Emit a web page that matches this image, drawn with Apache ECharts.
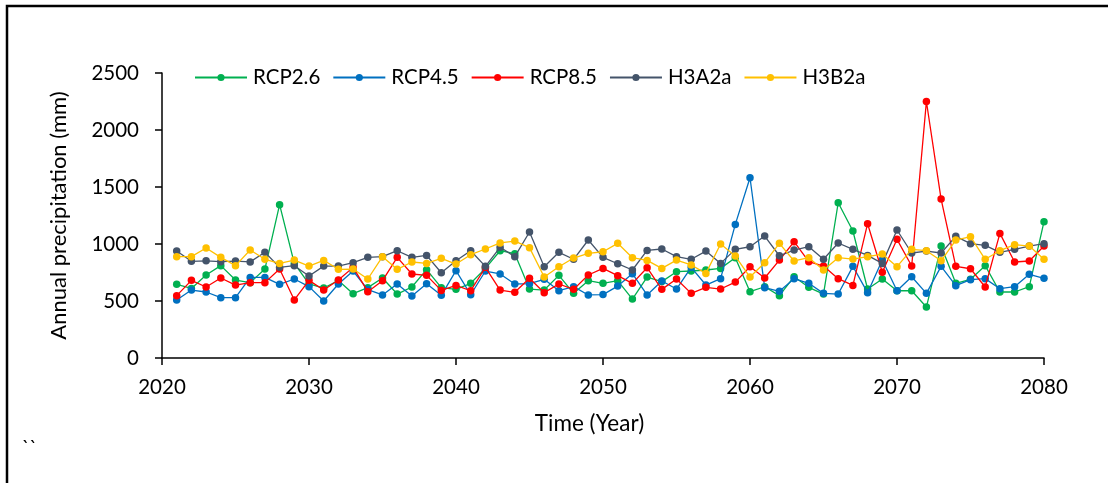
<!DOCTYPE html>
<html>
<head>
<meta charset="utf-8">
<script src="https://cdn.jsdelivr.net/npm/echarts@6/dist/echarts.min.js"></script>
<style>
  html, body { margin: 0; padding: 0; background: #fff; }
  #chart { width: 1108px; height: 483px; }
</style>
</head>
<body>
<div id="chart"></div>
<script>
// Annual precipitation (mm) per scenario, 2021–2080
const years = [];
for (let y = 2021; y <= 2080; y++) years.push(y);

const xTicks = [2020, 2030, 2040, 2050, 2060, 2070, 2080];
const yTicks = [0, 500, 1000, 1500, 2000, 2500];

const rcp26 = [646, 610, 728, 810, 684, 661, 780, 1345, 830, 650,
               614, 680, 564, 617, 702, 561, 623, 775, 617, 602,
               655, 786, 941, 915, 605, 596, 725, 567, 678, 655,
               678, 517, 710, 670, 757, 763, 772, 786, 880, 582,
               625, 547, 713, 620, 561, 1362, 1114, 605, 693, 590,
               590, 447, 982, 655, 690, 810, 579, 579, 626, 1196];

const rcp45 = [509, 596, 579, 529, 529, 707, 707, 646, 693, 626,
               500, 649, 763, 600, 553, 649, 544, 652, 550, 766,
               555, 763, 737, 649, 652, 690, 590, 626, 553, 556,
               631, 740, 553, 675, 605, 795, 640, 696, 1172, 1581,
               617, 585, 696, 655, 567, 561, 804, 573, 859, 590,
               713, 567, 804, 634, 687, 696, 608, 626, 734, 699];

const rcp85 = [547, 681, 623, 702, 640, 661, 661, 780, 509, 681,
               596, 684, 795, 582, 678, 883, 737, 725, 593, 637,
               590, 795, 596, 576, 699, 573, 649, 602, 728, 786,
               722, 655, 792, 602, 693, 567, 620, 605, 666, 801,
               702, 859, 1020, 845, 806, 696, 637, 1178, 752, 1041,
               807, 2250, 1394, 804, 783, 623, 1093, 842, 851, 982];

const h3a2a = [938, 848, 852, 845, 850, 843, 927, 795, 810, 719,
               806, 806, 836, 883, 889, 941, 883, 900, 748, 853,
               941, 804, 971, 889, 1105, 801, 927, 866, 1035, 883,
               827, 772, 944, 956, 889, 866, 938, 830, 953, 976,
               1070, 897, 947, 976, 866, 1009, 953, 900, 830, 1123,
               921, 938, 921, 1067, 1003, 988, 927, 953, 982, 1003];

const h3b2a = [889, 889, 965, 883, 810, 947, 866, 830, 859, 806,
               856, 778, 780, 693, 889, 778, 842, 830, 874, 824,
               906, 956, 1009, 1026, 968, 710, 801, 877, 918, 932,
               1006, 880, 856, 786, 859, 816, 742, 1000, 894, 710,
               836, 1006, 851, 880, 772, 880, 868, 889, 912, 801,
               953, 941, 853, 1035, 1064, 866, 941, 994, 982, 866];

const seriesNames = ['RCP2.6', 'RCP4.5', 'RCP8.5', 'H3A2a', 'H3B2a'];
const seriesColors = ['#00B050', '#0070C0', '#FF0000', '#44546A', '#FFC000'];
const seriesValues = [rcp26, rcp45, rcp85, h3a2a, h3b2a];

const FONT = 'Lato, "Open Sans", sans-serif';

const chart = echarts.init(document.getElementById('chart'), null, { renderer: 'canvas' });

chart.setOption({
  backgroundColor: '#fff',
  animation: false,
  textStyle: { fontFamily: FONT, color: '#000' },
  legend: {
    left: 194,
    top: 67,
    padding: 0,
    itemWidth: 52,
    itemHeight: 9,
    itemGap: 12,
    textStyle: { fontFamily: FONT, fontSize: 20.5, color: '#000', padding: [0, 0, 0, 1] },
    data: seriesNames
  },
  grid: { left: 162, right: 64, top: 73, bottom: 125, containLabel: false },
  xAxis: {
    type: 'value',
    min: xTicks[0],
    max: xTicks[xTicks.length - 1],
    interval: 10,
    name: 'Time (Year)',
    nameLocation: 'middle',
    nameGap: 54,
    nameTextStyle: { fontFamily: FONT, fontSize: 22.5, color: '#000', padding: [0, 27, 0, 0] },
    axisLine: { show: true, onZero: false, lineStyle: { color: '#000', width: 1.5 } },
    axisTick: { show: true, inside: false, length: 7, lineStyle: { color: '#000', width: 1.5 } },
    axisLabel: { fontFamily: FONT, fontSize: 20.5, color: '#000', margin: 19, formatter: v => String(v) },
    splitLine: { show: false }
  },
  yAxis: {
    type: 'value',
    min: yTicks[0],
    max: yTicks[yTicks.length - 1],
    interval: 500,
    name: 'Annual precipitation (mm)',
    nameLocation: 'middle',
    nameGap: 92,
    nameTextStyle: { fontFamily: FONT, fontSize: 22, color: '#000' },
    axisLine: { show: true, lineStyle: { color: '#000', width: 1.5 } },
    axisTick: { show: true, inside: false, length: 7, lineStyle: { color: '#000', width: 1.5 } },
    axisLabel: { fontFamily: FONT, fontSize: 20.5, color: '#000', margin: 23, formatter: v => String(v) },
    splitLine: { show: false }
  },
  series: seriesNames.map((name, i) => ({
    name: name,
    type: 'line',
    data: years.map((y, k) => [y, seriesValues[i][k]]),
    symbol: 'circle',
    symbolSize: 7.5,
    showSymbol: true,
    color: seriesColors[i],
    lineStyle: { color: seriesColors[i], width: 1.3 },
    itemStyle: { color: seriesColors[i] },
    z: 2 + i
  })),
  graphic: [
    {
      type: 'polyline',
      shape: { points: [[7, 483], [7, 6], [1108, 6]] },
      style: { stroke: '#000', lineWidth: 2.5, fill: null }
    },
    {
      type: 'text',
      left: 22,
      top: 438,
      style: { text: '``', fontFamily: FONT, fontSize: 19, fill: '#000' }
    }
  ]
});
</script>
</body>
</html>
